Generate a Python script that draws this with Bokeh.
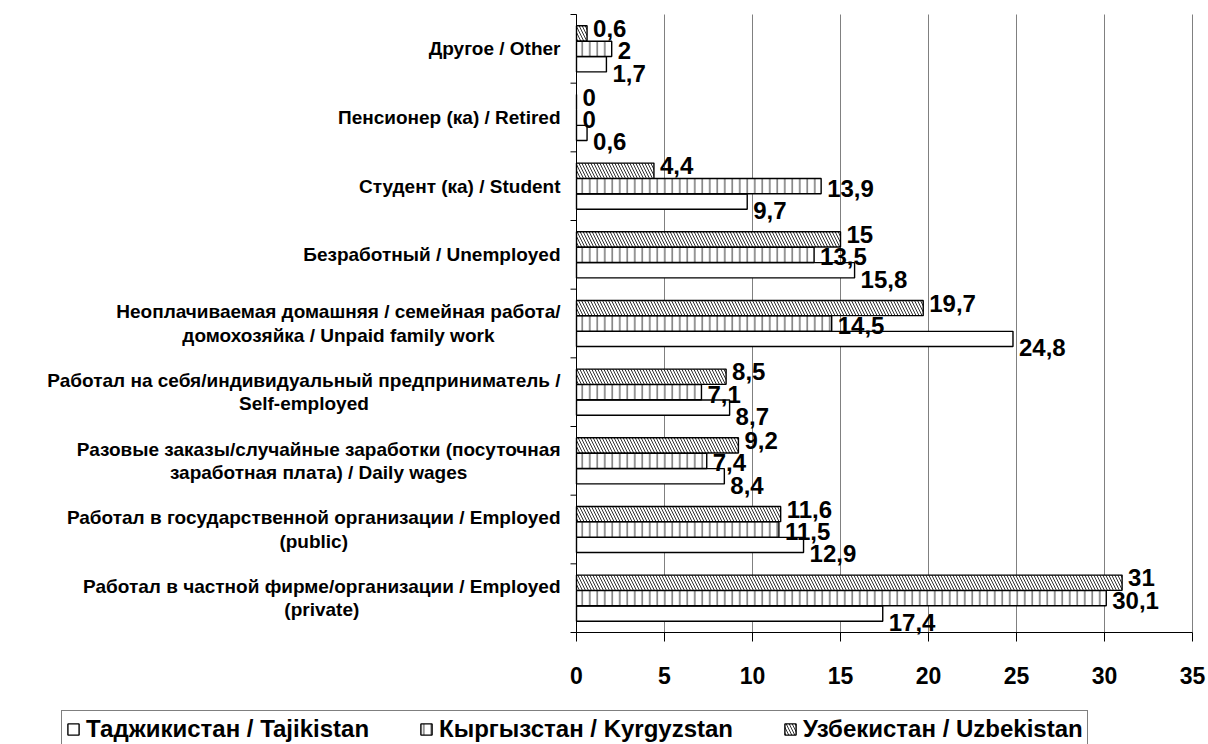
from bokeh.plotting import figure
from bokeh.models import (Range1d, FixedTicker, Label, LabelSet, ColumnDataSource,
                          Legend, LegendItem)
from bokeh.core.properties import value
from bokeh.embed import file_html
from bokeh.resources import INLINE

# ---------------- data (bottom -> top) ----------------
categories = [
    "Работал в частной фирме/организации / Employed\n(private)",
    "Работал в государственной организации / Employed\n(public)",
    "Разовые заказы/случайные заработки (посуточная\nзаработная плата) / Daily wages",
    "Работал на себя/индивидуальный предприниматель /\nSelf-employed",
    "Неоплачиваемая домашняя / семейная работа/\nдомохозяйка / Unpaid family work",
    "Безработный / Unemployed",
    "Студент (ка) / Student",
    "Пенсионер (ка) / Retired",
    "Другое / Other",
]
tajikistan = [17.4, 12.9, 8.4, 8.7, 24.8, 15.8, 9.7, 0.6, 1.7]
kyrgyzstan = [30.1, 11.5, 7.4, 7.1, 14.5, 13.5, 13.9, 0, 2]
uzbekistan = [31, 11.6, 9.2, 8.5, 19.7, 15, 4.4, 0, 0.6]
series_names = ["Таджикистан / Tajikistan", "Кыргызстан / Kyrgyzstan",
                "Узбекистан / Uzbekistan"]
x_ticks = [0, 5, 10, 15, 20, 25, 30, 35]

FONT = "Liberation Sans"

# ---------------- layout constants (pixels) ----------------
W, H = 1208, 744
AXIS_X = 576          # pixel where value 0 sits
PLOT_RIGHT = 1192     # pixel where value 35 sits
AXIS_Y = 632          # pixel of the bottom of the category bands
TOP_Y = 14            # pixel of the top of the category bands
XMAX = 35
NCAT = len(categories)
ux = XMAX / (PLOT_RIGHT - AXIS_X)       # data units per px (x)
uy = NCAT / (AXIS_Y - TOP_Y)            # data units per px (y)

p = figure(width=W, height=H, output_backend="svg", toolbar_location=None,
           x_range=Range1d(-AXIS_X * ux, (W - AXIS_X) * ux),
           y_range=Range1d(-(H - AXIS_Y) * uy, NCAT + TOP_Y * uy),
           min_border_left=0, min_border_right=0,
           min_border_top=0, min_border_bottom=0)
p.outline_line_color = None
p.background_fill_color = "white"
p.border_fill_color = "white"
p.grid.visible = False

# vertical grid lines at the tick values, within the category area
p.segment(x0=x_ticks, x1=x_ticks, y0=[0] * len(x_ticks), y1=[NCAT] * len(x_ticks),
          line_color="#808080", line_width=1)

# x axis pinned at value 0 on the category scale
p.xaxis.fixed_location = 0
p.xaxis.ticker = FixedTicker(ticks=x_ticks)
p.xaxis.bounds = (0, XMAX)
p.xaxis.axis_line_color = "black"
p.xaxis.major_tick_line_color = "black"
p.xaxis.major_tick_out = 9
p.xaxis.major_tick_in = 0
p.xaxis.minor_tick_line_color = None
p.xaxis.major_label_text_font = FONT
p.xaxis.major_label_text_font_style = "bold"
p.xaxis.major_label_text_font_size = "23px"
p.xaxis.major_label_text_color = "black"
p.xaxis.major_label_standoff = 25

# y axis drawn at value 0, ticks at category boundaries
p.yaxis.visible = False
bounds = list(range(NCAT + 1))
p.segment(x0=[0], x1=[0], y0=[0], y1=[NCAT], line_color="black", line_width=1)
tick_len = 6 * ux
p.segment(x0=[-tick_len] * len(bounds), x1=[0] * len(bounds), y0=bounds, y1=bounds,
          line_color="black", line_width=1)

bar_h = 0.222
offsets = [-0.225, 0.0, 0.225]
vals = [tajikistan, kyrgyzstan, uzbekistan]
hatches = [" ", "|", "\\"]
hatch_scales = [6, 7.5, 6]
label_dy = [-9, -2, 5]

renderers = []
for k in range(3):
    ys = [i + 0.5 + offsets[k] for i in range(NCAT)]
    src = ColumnDataSource(dict(
        y=ys, v=vals[k],
        lab=[(f"{v:g}").replace(".", ",") for v in vals[k]]))
    r = p.hbar(y="y", left=0, right="v", height=bar_h, source=src,
               fill_color="white", line_color="black", line_width=1.4,
               hatch_pattern=hatches[k], hatch_color="#303030",
               hatch_weight=1, hatch_scale=hatch_scales[k])
    renderers.append(r)
    ls = LabelSet(x="v", y="y", text="lab", source=src, x_offset=6,
                  y_offset=label_dy[k], text_font=value(FONT),
                  text_font_style="bold", text_font_size="24px",
                  text_color="black", text_baseline="middle", text_align="left")
    p.add_layout(ls)

# category labels
for i, c in enumerate(categories):
    p.add_layout(Label(x=0, y=i + 0.5, x_offset=-16, text=c, text_font=FONT,
                       text_font_style="bold", text_font_size="19px",
                       text_color="black", text_align="center",
                       text_baseline="middle", anchor="center_right",
                       text_line_height=1.1))

legend = Legend(items=[LegendItem(label=series_names[k], renderers=[renderers[k]])
                       for k in range(3)],
                orientation="horizontal", location=(61, -4),
                label_text_font=FONT, label_text_font_style="bold",
                label_text_font_size="24px", label_text_color="black",
                glyph_width=14, glyph_height=14, label_standoff=6,
                spacing=50, padding=4, margin=0,
                border_line_color="black", border_line_width=1,
                background_fill_color="white")
p.add_layout(legend)

open("out.html", "w").write(file_html(p, INLINE))
